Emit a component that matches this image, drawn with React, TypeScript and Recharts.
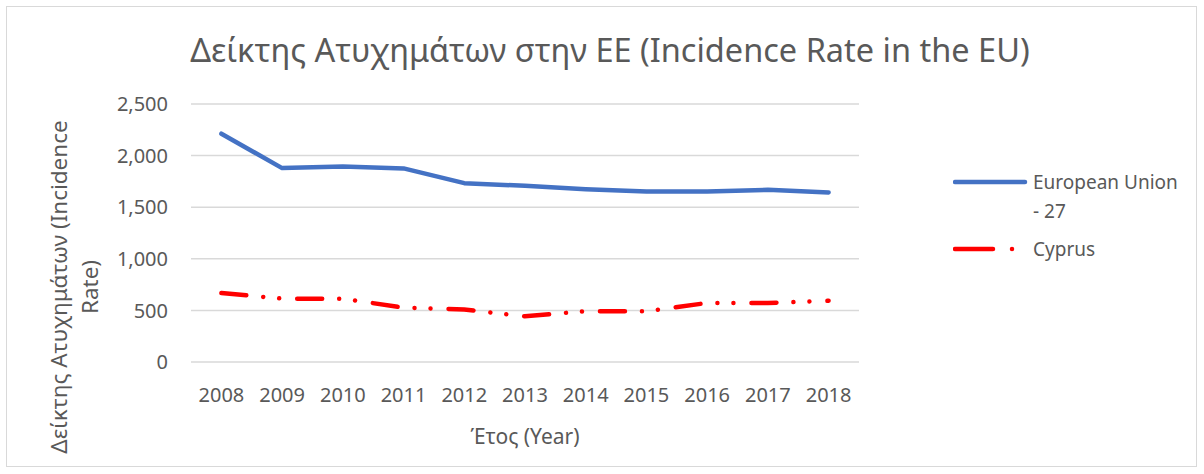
import React from 'react';
import { LineChart, Line, XAxis, YAxis, CartesianGrid } from 'recharts';

const years = ['2008', '2009', '2010', '2011', '2012', '2013', '2014', '2015', '2016', '2017', '2018'];
const euValues = [2212, 1879, 1895, 1876, 1733, 1707, 1675, 1653, 1653, 1668, 1643];
const cyprusValues = [668, 614, 614, 526, 509, 443, 492, 492, 572, 572, 593];
const yTicks = [0, 500, 1000, 1500, 2000, 2500];

const title = 'Δείκτης Ατυχημάτων στην ΕΕ (Incidence Rate in the EU)';
const xTitle = 'Έτος (Year)';
const yTitleLine1 = 'Δείκτης Ατυχημάτων (Incidence';
const yTitleLine2 = 'Rate)';
const euNameLine1 = 'European Union';
const euNameLine2 = '- 27';
const cyName = 'Cyprus';

const data = years.map((y, i) => ({ year: y, eu: euValues[i], cy: cyprusValues[i] }));

const FONT = '"Noto Sans", "Open Sans", sans-serif';
const GREY = '#595959';
const BLUE = '#4472C4';
const RED = '#FF0000';
const RED_DASH = '25 17 0.01 16 0.01 18';

const fmt = (v: number) => v.toLocaleString('en-US');

const LegendBox = () => (
  <div style={{ position: 'absolute', left: 953, top: 165, fontFamily: FONT, fontSize: 19, color: GREY, width: 240, height: 110 }}>
    <svg width={90} height={100} style={{ position: 'absolute', left: 0, top: 0 }}>
      <line x1={2} y1={17} x2={72} y2={17} stroke={BLUE} strokeWidth={4.5} strokeLinecap="round" />
      <line x1={2} y1={84} x2={64} y2={84} stroke={RED} strokeWidth={4.5} strokeLinecap="round" strokeDasharray="38 19 0.01 100" />
    </svg>
    <div style={{ position: 'absolute', left: 80, top: 3, lineHeight: '29px', whiteSpace: 'nowrap' }}>
      {euNameLine1}
      <br />
      {euNameLine2}
    </div>
    <div style={{ position: 'absolute', left: 80, top: 70, lineHeight: '29px' }}>{cyName}</div>
  </div>
);

const renderYLabel = (props: any) => {
  const vb = props.viewBox || {};
  const cy = (vb.y ?? 104) + (vb.height ?? 257) / 2 + 54;
  return (
    <g fill={GREY} fontFamily={FONT} fontSize={22.5}>
      <text x={67} y={cy} textAnchor="middle" transform={`rotate(-90, 67, ${cy})`}>{yTitleLine1}</text>
      <text x={98} y={cy} textAnchor="middle" transform={`rotate(-90, 98, ${cy})`}>{yTitleLine2}</text>
    </g>
  );
};

export default function App() {
  return (
    <div style={{ position: 'absolute', left: 0, top: 0, width: 1204, height: 474, background: '#fff' }}>
      <div style={{ position: 'absolute', left: 6, top: 6, width: 1191, height: 461, border: '1px solid #d9d9d9', boxSizing: 'border-box' }} />
      <div style={{ position: 'absolute', left: 0, top: 28, width: 1220, textAlign: 'center', fontFamily: FONT, fontSize: 32.5, color: GREY, lineHeight: '44px' }}>
        {title}
      </div>
      <div style={{ position: 'absolute', left: 0, top: 0 }}>
        <LineChart width={1204} height={474} data={data} margin={{ top: 104, right: 345, bottom: 82, left: 0 }}>
          <CartesianGrid vertical={false} stroke="#d9d9d9" strokeWidth={1.5} />
          <XAxis
            dataKey="year"
            padding={{ left: 30.4, right: 30.4 }}
            axisLine={false}
            tickLine={false}
            tickMargin={19.5}
            height={30}
            tick={{ fill: GREY, fontFamily: FONT, fontSize: 20 }}
            interval={0}
            label={{ value: xTitle, position: 'insideBottom', offset: -52, fill: GREY, fontFamily: FONT, fontSize: 21 }}
          />
          <YAxis
            width={191}
            domain={[0, 2500]}
            ticks={yTicks}
            tickFormatter={fmt}
            axisLine={false}
            tickLine={false}
            tickMargin={17}
            tick={{ fill: GREY, fontFamily: FONT, fontSize: 20 }}
            label={{ content: renderYLabel }}
          />
          <Line dataKey="eu" name="European Union - 27" stroke={BLUE} strokeWidth={4.5} dot={false} strokeLinejoin="round" strokeLinecap="round" isAnimationActive={false} />
          <Line dataKey="cy" name={cyName} stroke={RED} strokeWidth={4.5} dot={false} strokeDasharray={RED_DASH} strokeLinecap="round" isAnimationActive={false} />
        </LineChart>
      </div>
      <LegendBox />
    </div>
  );
}
